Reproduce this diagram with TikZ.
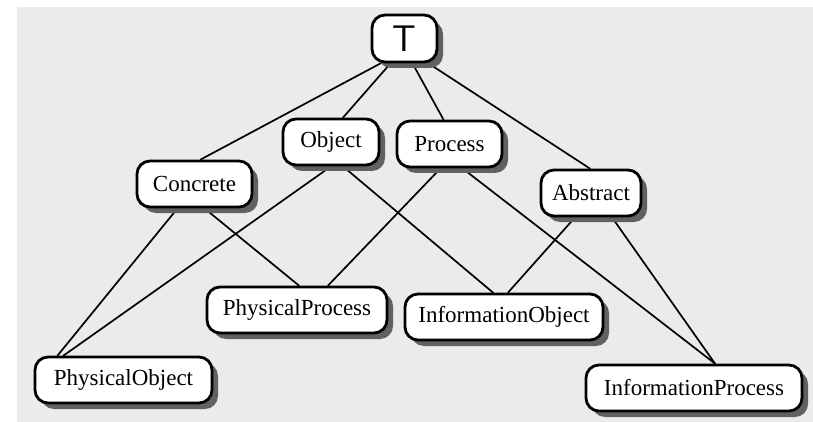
\documentclass[tikz,border=0pt]{standalone}
\usepackage{fontspec}
\setmainfont{Liberation Serif}
\usetikzlibrary{shadows}
\pgfdeclarelayer{paper}
\pgfdeclarelayer{edges}
\pgfsetlayers{paper,edges,main}
\tikzset{
  concept/.style={draw, line width=2.8pt, rounded corners=13pt, fill=white,
    minimum height=46pt, inner xsep=6pt, inner ysep=4pt,
    font=\fontsize{23}{26}\selectfont,
    drop shadow={shadow xshift=6pt, shadow yshift=-6pt, fill=black!62, opacity=1}},
  link/.style={line width=1.7pt, line cap=round}
}
\begin{document}
\begin{tikzpicture}[x=1pt, y=-1pt]
  \useasboundingbox (0,0) rectangle (813,422);
  \begin{pgfonlayer}{paper}
    \fill[black!8] (17,7) rectangle (813,422);
  \end{pgfonlayer}

  % concept nodes
  \node[concept, minimum width=65pt, minimum height=47pt,
        font=\sffamily\fontsize{37}{37}\selectfont] (T) at (404.5,38.5) {T};
  \node[concept, minimum width=115pt] (Concrete) at (194.5,184) {Concrete};
  \node[concept, minimum width=96pt]  (Object)   at (331,142)   {Object};
  \node[concept, minimum width=105pt] (Process)  at (449.5,144) {Process};
  \node[concept, minimum width=100pt] (Abstract) at (591,193)   {Abstract};
  \node[concept, minimum width=180pt] (PhysProc) at (297,310)   {PhysicalProcess};
  \node[concept, minimum width=198pt] (InfoObj)  at (504,317)   {InformationObject};
  \node[concept, minimum width=177pt] (PhysObj)  at (123.5,380) {PhysicalObject};
  \node[concept, minimum width=216pt] (InfoProc) at (694,388)   {InformationProcess};

  % subsumption links
  \begin{pgfonlayer}{edges}
    \draw[link] ([xshift=-24pt]T.south) -- ([xshift=6pt]Concrete.north);
    \draw[link] ([xshift=-14pt]T.south) -- ([xshift=12pt]Object.north);
    \draw[link] ([xshift=8pt]T.south)   -- ([xshift=-6pt]Process.north);
    \draw[link] ([xshift=24pt]T.south)  -- ([xshift=-1pt]Abstract.north);

    \draw[link] ([xshift=-17pt]Concrete.south) -- ([xshift=-66pt]PhysObj.north);
    \draw[link] ([xshift=10pt]Concrete.south)  -- ([xshift=2pt]PhysProc.north);
    \draw[link] ([xshift=0pt]Object.south)     -- ([xshift=-60pt]PhysObj.north);
    \draw[link] ([xshift=12pt]Object.south)    -- ([xshift=-11pt]InfoObj.north);
    \draw[link] ([xshift=-9pt]Process.south)   -- ([xshift=31pt]PhysProc.north);
    \draw[link] ([xshift=13pt]Process.south)   -- ([xshift=21pt]InfoProc.north);
    \draw[link] ([xshift=-16pt]Abstract.south) -- ([xshift=4pt]InfoObj.north);
    \draw[link] ([xshift=21pt]Abstract.south)  -- ([xshift=21pt]InfoProc.north);
  \end{pgfonlayer}
\end{tikzpicture}
\end{document}
